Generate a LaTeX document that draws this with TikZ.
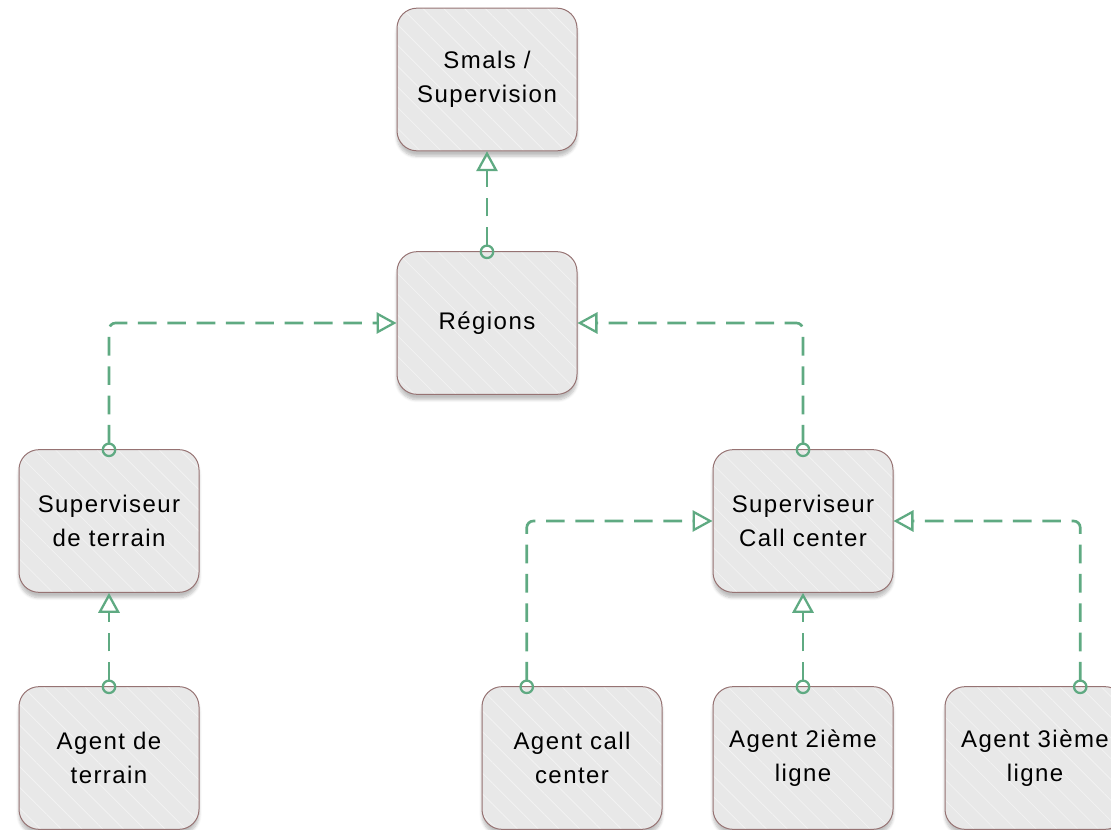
\documentclass[tikz,border=0pt]{standalone}
\usepackage{fontspec}
\setmainfont{Liberation Sans}[LetterSpace=6]
\usetikzlibrary{arrows.meta,calc,patterns.meta,shadows.blur}

\definecolor{linkgreen}{RGB}{95,170,130}
\definecolor{boxedge}{RGB}{150,115,115}
\definecolor{boxfill}{RGB}{232,232,232}
\definecolor{hatch}{RGB}{242,242,242}

\tikzset{every picture/.style={line width=0.75pt}}
\tikzset{
  box/.style={draw=boxedge, line width=0.75pt, rounded corners=15pt,
    minimum width=135pt, minimum height=107pt, align=center,
    font=\fontsize{18}{25.5}\selectfont, text=black,
    preaction={fill=boxfill, blur shadow={shadow blur steps=6, shadow xshift=0pt, shadow yshift=-4pt, shadow opacity=25}},
    pattern={Lines[angle=-45, distance=11pt, line width=0.6pt]}, pattern color=hatch},
  link/.style={draw=linkgreen, line width=2pt, dash pattern={on 14pt off 8pt},
    rounded corners=5pt, shorten <=-6pt,
    {Circle[open, length=11pt, width=11pt, line width=1.7pt]}-{Triangle[open, length=15pt, width=16pt, line width=1.7pt]}}
}

\begin{document}
\begin{tikzpicture}[x=0.75pt,y=0.75pt,yscale=-1,xscale=1]
\useasboundingbox (0,0) rectangle (1111,830);
\clip (0,0) rectangle (1111,830);

% Boxes
\node [box] (smals) at (487,79.5) {Smals /\\Supervision};
\node [box] (regions) at (487,323) {Régions};
\node [box] (supterrain) at (109,521) {Superviseur\\de terrain};
\node [box] (supcall) at (803,521) {Superviseur\\Call center};
\node [box] (agterrain) at (109,758) {Agent de\\terrain};
\node [box] (agcall) at (572,758) {Agent call\\center};
\node [box] (agdeux) at (803,758) {Agent 2ième\\ligne};
\node [box] (agtrois) at (1035,758) {Agent 3ième\\ligne};

% Ports
\coordinate (agcallport) at ($(agcall.north west)!0.25!(agcall.north east)$);
\coordinate (agtroisport) at ($(agtrois.north west)!0.75!(agtrois.north east)$);

% Links
\draw [link] (regions.north) -- (smals.south);
\draw [link] (supterrain.north) |- (regions.west);
\draw [link] (supcall.north) |- (regions.east);
\draw [link] (agterrain.north) -- (supterrain.south);
\draw [link] (agcallport) |- (supcall.west);
\draw [link] (agdeux.north) -- (supcall.south);
\draw [link] (agtroisport) |- (supcall.east);

\end{tikzpicture}
\end{document}
